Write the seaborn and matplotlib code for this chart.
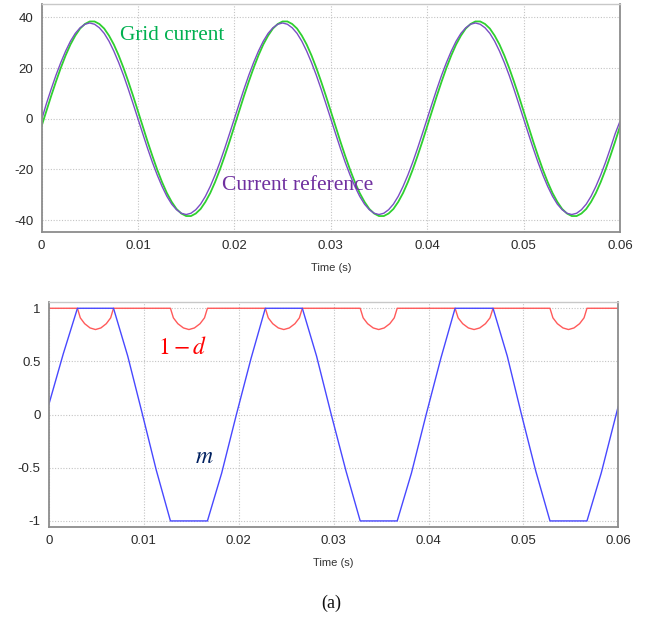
import numpy as np
import pandas as pd
import matplotlib
matplotlib.use("Agg")
import matplotlib.pyplot as plt
import seaborn as sns

# ---- top panel: grid current vs current reference (sampled every 0.5 ms)
time_ms = np.arange(121) * 0.5
grid_current = [
    -3.0, 3.0, 9.0, 14.7, 20.1, 25.0, 29.3, 32.8, 35.6, 37.4,
    38.4, 38.4, 37.4, 35.6, 32.8, 29.3, 25.0, 20.1, 14.7, 9.0,
    3.0, -3.0, -9.0, -14.7, -20.1, -25.0, -29.3, -32.8, -35.6, -37.4,
    -38.4, -38.4, -37.4, -35.6, -32.8, -29.3, -25.0, -20.1, -14.7, -9.0,
    -3.0, 3.0, 9.0, 14.7, 20.1, 25.0, 29.3, 32.8, 35.6, 37.4,
    38.4, 38.4, 37.4, 35.6, 32.8, 29.3, 25.0, 20.1, 14.7, 9.0,
    3.0, -3.0, -9.0, -14.7, -20.1, -25.0, -29.3, -32.8, -35.6, -37.4,
    -38.4, -38.4, -37.4, -35.6, -32.8, -29.3, -25.0, -20.1, -14.7, -9.0,
    -3.0, 3.0, 9.0, 14.7, 20.1, 25.0, 29.3, 32.8, 35.6, 37.4,
    38.4, 38.4, 37.4, 35.6, 32.8, 29.3, 25.0, 20.1, 14.7, 9.0,
    3.0, -3.0, -9.0, -14.7, -20.1, -25.0, -29.3, -32.8, -35.6, -37.4,
    -38.4, -38.4, -37.4, -35.6, -32.8, -29.3, -25.0, -20.1, -14.7, -9.0,
    -3.0,
]
current_ref = [
    -0.5, 5.9, 11.7, 17.2, 22.2, 26.7, 30.6, 33.7, 35.9, 37.3,
    37.8, 37.3, 35.9, 33.7, 30.6, 26.7, 22.2, 17.2, 11.7, 5.9,
    0.0, -5.9, -11.7, -17.2, -22.2, -26.7, -30.6, -33.7, -35.9, -37.3,
    -37.8, -37.3, -35.9, -33.7, -30.6, -26.7, -22.2, -17.2, -11.7, -5.9,
    0.0, 5.9, 11.7, 17.2, 22.2, 26.7, 30.6, 33.7, 35.9, 37.3,
    37.8, 37.3, 35.9, 33.7, 30.6, 26.7, 22.2, 17.2, 11.7, 5.9,
    0.0, -5.9, -11.7, -17.2, -22.2, -26.7, -30.6, -33.7, -35.9, -37.3,
    -37.8, -37.3, -35.9, -33.7, -30.6, -26.7, -22.2, -17.2, -11.7, -5.9,
    0.0, 5.9, 11.7, 17.2, 22.2, 26.7, 30.6, 33.7, 35.9, 37.3,
    37.8, 37.3, 35.9, 33.7, 30.6, 26.7, 22.2, 17.2, 11.7, 5.9,
    0.0, -5.9, -11.7, -17.2, -22.2, -26.7, -30.6, -33.7, -35.9, -37.3,
    -37.8, -37.3, -35.9, -33.7, -30.6, -26.7, -22.2, -17.2, -11.7, -5.9,
    -1.0,
]

# ---- bottom panel: modulation index m and 1-d
m_time_ms = [0, 1.5, 3.0, 6.8, 8.3, 9.8, 11.3, 12.8, 16.7, 18.2, 19.75, 21.3,
             22.8, 26.7, 28.2, 29.75, 31.3, 32.8, 36.7, 38.2, 39.75, 41.3,
             42.8, 46.8, 48.3, 49.8, 51.3, 52.8, 56.7, 58.2, 60.0]
m_values = [0.1, 0.57, 1.0, 1.0, 0.55, 0.02, -0.52, -1.0, -1.0, -0.55, 0.0, 0.53,
            1.0, 1.0, 0.55, 0.0, -0.53, -1.0, -1.0, -0.55, 0.0, 0.53,
            1.0, 1.0, 0.55, 0.0, -0.53, -1.0, -1.0, -0.55, 0.08]

d_time_ms = [0,
             3.0, 3.3, 3.76, 4.33, 4.9, 5.47, 6.04, 6.5, 6.8,
             12.8, 13.11, 13.58, 14.17, 14.75, 15.33, 15.92, 16.39, 16.7,
             22.8, 23.11, 23.58, 24.17, 24.75, 25.33, 25.92, 26.39, 26.7,
             32.8, 33.11, 33.58, 34.17, 34.75, 35.33, 35.92, 36.39, 36.7,
             42.8, 43.12, 43.6, 44.2, 44.8, 45.4, 46.0, 46.48, 46.8,
             52.8, 53.11, 53.58, 54.17, 54.75, 55.33, 55.92, 56.39, 56.7,
             60.0]
one_minus_d = [1.0,
               1.0, 0.91, 0.855, 0.815, 0.80, 0.815, 0.855, 0.91, 1.0,
               1.0, 0.91, 0.855, 0.815, 0.80, 0.815, 0.855, 0.91, 1.0,
               1.0, 0.91, 0.855, 0.815, 0.80, 0.815, 0.855, 0.91, 1.0,
               1.0, 0.91, 0.855, 0.815, 0.80, 0.815, 0.855, 0.91, 1.0,
               1.0, 0.91, 0.855, 0.815, 0.80, 0.815, 0.855, 0.91, 1.0,
               1.0, 0.91, 0.855, 0.815, 0.80, 0.815, 0.855, 0.91, 1.0,
               1.0]

top_ticks = [-40, -20, 0, 20, 40]
bottom_ticks = [-1, -0.5, 0, 0.5, 1]
x_ticks = [0, 0.01, 0.02, 0.03, 0.04, 0.05, 0.06]

top_df = pd.DataFrame({"t": time_ms / 1000, "grid": grid_current, "ref": current_ref})
m_df = pd.DataFrame({"t": np.array(m_time_ms) / 1000, "m": m_values})
d_df = pd.DataFrame({"t": np.array(d_time_ms) / 1000, "d": one_minus_d})

sns.set_style("white")
plt.rcParams["font.family"] = ["Liberation Sans", "DejaVu Sans"]
plt.rcParams["mathtext.fontset"] = "stix"

fig = plt.figure(figsize=(6.54, 6.21), dpi=100)
ax1 = fig.add_axes([0.0635, 0.6264, 0.8845, 0.3672])
ax2 = fig.add_axes([0.0749, 0.1519, 0.8705, 0.3623])


def style_axes(ax, yticks, ylim, ytick_labels):
    ax.set_xlim(0, 0.06)
    ax.set_ylim(*ylim)
    ax.set_xticks(x_ticks)
    ax.set_xticklabels(["0", "0.01", "0.02", "0.03", "0.04", "0.05", "0.06"])
    ax.set_yticks(yticks)
    ax.set_yticklabels(ytick_labels)
    ax.grid(True, color="#c4c4c4", linestyle=(0, (1, 1.5)), linewidth=0.8)
    ax.tick_params(length=0, labelsize=9.5, labelcolor="#2a2a2a", pad=6)
    for side in ["left", "bottom", "right"]:
        ax.spines[side].set_color("#8c8c8c")
        ax.spines[side].set_linewidth(1.3)
    ax.spines["top"].set_color("#c8c8c8")
    ax.spines["top"].set_linewidth(1.0)
    ax.set_xlabel("Time (s)", fontsize=8, color="#333333", labelpad=8)
    ax.set_ylabel("")


sns.lineplot(data=top_df, x="t", y="grid", ax=ax1, color="#2fd02f",
             linewidth=1.3, estimator=None)
sns.lineplot(data=top_df, x="t", y="ref", ax=ax1, color="#7a4ec4",
             linewidth=1.0, estimator=None)
style_axes(ax1, top_ticks, (-44.7, 45.3), ["-40", "-20", "0", "20", "40"])
ax1.text(0.0081, 33.0, "Grid current", color="#00b050", fontsize=15.3,
         family="Liberation Serif", va="center")
ax1.text(0.0187, -26.5, "Current reference", color="#7030a0", fontsize=15.5,
         family="Liberation Serif", va="center")

sns.lineplot(data=d_df, x="t", y="d", ax=ax2, color="#ff5a5a",
             linewidth=1.0, estimator=None)
sns.lineplot(data=m_df, x="t", y="m", ax=ax2, color="#4848ff",
             linewidth=1.0, estimator=None)
style_axes(ax2, bottom_ticks, (-1.054, 1.062), ["-1", "-0.5", "0", "0.5", "1"])
ax2.text(0.0115, 0.627, r"$1-d$", color="#ff0000", fontsize=17, va="center")
ax2.text(0.0154, -0.40, r"$m$", color="#002060", fontsize=17, va="center")

fig.text(0.507, 0.029, "(a)", fontsize=13, family="Liberation Serif",
         ha="center", va="center", color="#111111")

fig.savefig("out.png", dpi=100)
